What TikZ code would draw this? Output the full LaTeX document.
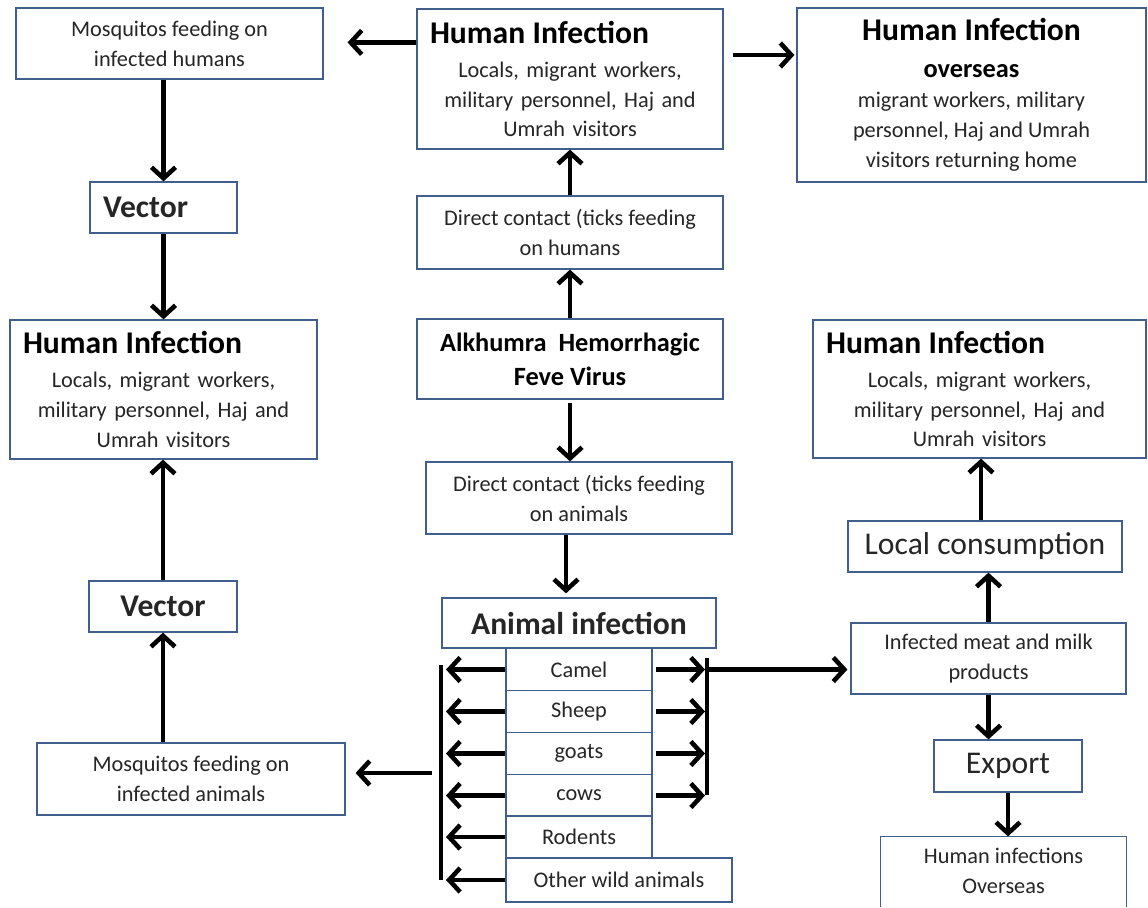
\documentclass[tikz,border=0pt]{standalone}
\usepackage{fontspec}
\setmainfont{Carlito}
\usetikzlibrary{arrows.meta,calc}

\newcommand{\boxtitle}{\fontsize{18}{22}\selectfont\bfseries\color{black}}
\newcommand{\boxbig}{\fontsize{18}{22}\selectfont}

\begin{document}
\begin{tikzpicture}[x=0.02cm,y=-0.02cm]
    % Definizione stili
    \definecolor{bordo}{RGB}{65,95,140}
    \tikzset{box/.style={draw=bordo, line width=0.7pt, inner sep=0pt, align=center, font=\fontsize{12.7}{17}\selectfont, text=black!85}}
    \tikzstyle{frame}=[draw=bordo, line width=0.7pt]
    \tikzstyle{link}=[-{Straight Barb[length=0.22cm,width=0.48cm]}, line width=2.6pt]
    \tikzstyle{spine}=[line width=2.6pt]

    \useasboundingbox[fill=white] (0,0) rectangle (1148,907);

    % Colonna centrale: virus e contatto diretto
    \node[box, minimum width=6.12cm, minimum height=1.6cm, font=\fontsize{15}{19.4}\selectfont\bfseries, text=black] (virus) at (570,359) {Alkhumra\ \ Hemorrhagic\\Feve Virus};
    \node[box, minimum width=6.12cm, minimum height=1.46cm] (directh) at (570,232.5) {Direct contact (ticks feeding\\on humans};
    \node[box, minimum width=6.12cm, minimum height=1.44cm] (directa) at (579,498) {Direct contact (ticks feeding\\on animals};

    % Infezione umana in alto
    \node[box, minimum width=6.12cm, minimum height=2.8cm, text width=5.6cm] (humtop) at (570,79)
        {\makebox[\linewidth][l]{\boxtitle Human Infection}\\[2.4pt]Locals, migrant workers,\\military personnel, Haj and\\Umrah visitors};
    \node[box, minimum width=6.98cm, minimum height=3.48cm] (humover) at (971.5,95)
        {{\boxtitle Human Infection}\\[4pt]{\fontsize{15}{18}\selectfont\bfseries\color{black}overseas}\\migrant workers, military\\personnel, Haj and Umrah\\visitors returning home};

    % Zanzare sugli umani
    \node[box, minimum width=6.14cm, minimum height=1.42cm] (mosqh) at (169.5,43.5) {Mosquitos feeding on\\infected humans};
    \node[box, minimum width=2.94cm, minimum height=1.02cm, text width=2.42cm, align=left, font=\boxtitle] (vec1) at (163.5,207.5) {Vector};
    \node[box, minimum width=6.14cm, minimum height=2.78cm, text width=5.62cm] (humleft) at (163.5,389.5)
        {\makebox[\linewidth][l]{\boxtitle Human Infection}\\[2.4pt]Locals, migrant workers,\\military personnel, Haj and\\Umrah visitors};
    \node[box, minimum width=2.96cm, minimum height=1.02cm, font=\boxtitle] (vec2) at (163,606.5) {Vector};
    \node[box, minimum width=6.16cm, minimum height=1.44cm] (mosqa) at (191,779) {Mosquitos feeding on\\infected animals};

    % Infezione animale
    \node[box, minimum width=5.48cm, minimum height=1cm, font=\boxtitle] (animal) at (579,623) {Animal infection};
    \node[box, minimum width=2.92cm, minimum height=0.84cm] (camel) at (579,669.5) {Camel};
    \node[box, minimum width=2.92cm, minimum height=0.84cm] (sheep) at (579,711.5) {Sheep};
    \node[box, minimum width=2.92cm, minimum height=0.84cm] (goats) at (579,753.5) {goats};
    \node[box, minimum width=2.92cm, minimum height=0.84cm] (cows) at (579,795.5) {cows};
    \node[box, minimum width=2.92cm, minimum height=0.84cm] (rodents) at (579,837) {Rodents};
    \node[box, minimum width=4.52cm, minimum height=0.88cm] (wild) at (619,880) {Other wild animals};

    % Prodotti e consumo
    \node[box, minimum width=5.5cm, minimum height=1.42cm] (meat) at (988.5,658.5) {Infected meat and milk\\products};
    \node[box, minimum width=5.48cm, minimum height=1.02cm, font=\boxbig] (local) at (985,546.5) {Local consumption};
    \node[box, minimum width=6.66cm, minimum height=2.76cm, text width=6.14cm] (humright) at (979.5,389)
        {\makebox[\linewidth][l]{\boxtitle Human Infection}\\[2.4pt]Locals, migrant workers,\\military personnel, Haj and\\Umrah visitors};
    \node[box, minimum width=2.96cm, minimum height=1.04cm, font=\boxbig] (export) at (1008,766) {Export};
    \node[box, draw=none, minimum width=4.9cm, minimum height=1.36cm] (humov2) at (1003.5,871) {Human infections\\Overseas};
    \draw[frame] (humov2.west |- 0,907) |- (humov2.north east) -- (humov2.east |- 0,907);

    % Barre di raccolta
    \coordinate (lbar-top) at (441,665);
    \coordinate (lbar-bot) at (441,880);
    \coordinate (lbar-out) at (432,773);
    \coordinate (rbar-top) at (707,658);
    \coordinate (rbar-bot) at (707,795);
    \draw[spine] (lbar-top) -- (lbar-bot);
    \draw[spine] (rbar-top) -- (rbar-bot);

    % Frecce
    \draw[link] ($(humtop.north west)+(0,34)$) -- ($(mosqh.east |- humtop.north west)+(24,34)$);
    \draw[link] ($(humtop.east)+(9,-24)$) -- ($(humover.west |- humtop.east)+(-2,-24)$);
    \draw[link] (mosqh.south -| vec1.north) -- (vec1.north);
    \draw[link] (vec1.south) -- (vec1.south |- humleft.north);
    \draw[link] (directh.north) -- (humtop.south);
    \draw[link] (virus.north) -- (directh.south);
    \draw[link] ($(virus.south)+(0,3)$) -- (virus.south |- directa.north);
    \draw[link] ($(directa.south)+(-13,0)$) -- ($(animal.north)+(-13,-4)$);
    \draw[link] (vec2.north) -- (vec2.north |- humleft.south);
    \draw[link] (vec2.south |- mosqa.north) -- (vec2.south);

    \draw[link] (camel.west) -- ($(camel.west -| lbar-top)+(5,0)$);
    \draw[link] (sheep.west) -- ($(sheep.west -| lbar-top)+(5,0)$);
    \draw[link] (goats.west) -- ($(goats.west -| lbar-top)+(5,0)$);
    \draw[link] (cows.west) -- ($(cows.west -| lbar-top)+(5,0)$);
    \draw[link] (rodents.west) -- ($(rodents.west -| lbar-top)+(5,0)$);
    \draw[link] (wild.west) -- ($(wild.west -| lbar-top)+(5,0)$);
    \draw[link] (lbar-out) -- ($(mosqa.east |- lbar-out)+(10,0)$);

    \draw[link] ($(camel.east)+(3,0)$) -- ($(camel.east -| rbar-top)+(-2,0)$);
    \draw[link] ($(sheep.east)+(3,0)$) -- ($(sheep.east -| rbar-top)+(-2,0)$);
    \draw[link] ($(goats.east)+(3,0)$) -- ($(goats.east -| rbar-top)+(-2,0)$);
    \draw[link] ($(cows.east)+(3,0)$) -- ($(cows.east -| rbar-top)+(-2,0)$);
    \draw[link] (rbar-top |- camel.east) -- ($(meat.west |- camel.east)+(-3,0)$);

    \draw[link] (meat.north) -- (meat.north |- local.south);
    \draw[link] ($(local.north)+(-4,0)$) -- ($(local.north |- humright.south)+(-4,0)$);
    \draw[link] (meat.south) -- (meat.south |- export.north);
    \draw[link] (export.south) -- (export.south |- humov2.north);
\end{tikzpicture}
\end{document}
